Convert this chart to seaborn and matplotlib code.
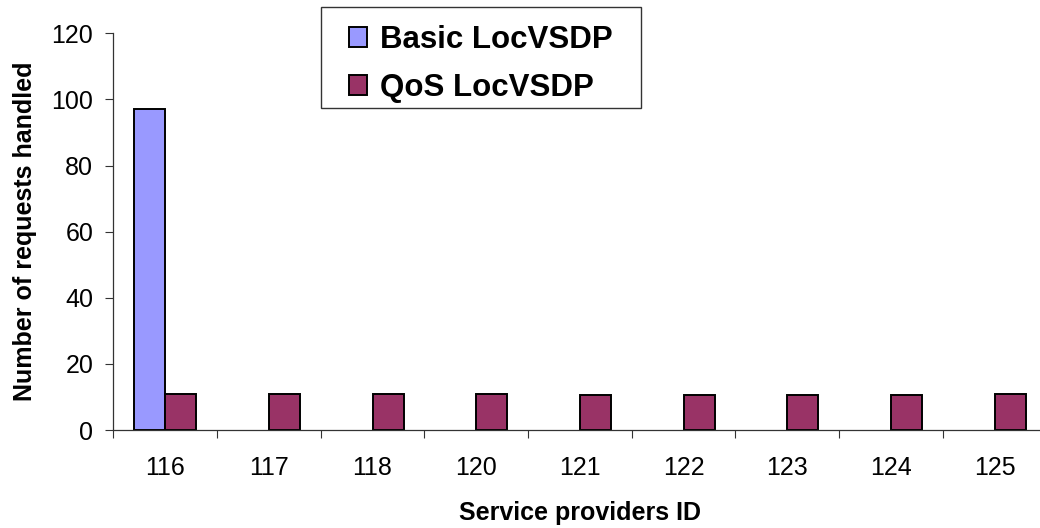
import numpy as np
import pandas as pd
import matplotlib
matplotlib.use('Agg')
import matplotlib.pyplot as plt
import seaborn as sns
from matplotlib.ticker import FixedLocator
from matplotlib.patches import Rectangle

# data (Basic LocVSDP only has a bar at 116)
provider_ids = ['116', '117', '118', '120', '121', '122', '123', '124', '125']
basic_locvsdp = [97, np.nan, np.nan, np.nan, np.nan, np.nan, np.nan, np.nan, np.nan]
qos_locvsdp = [11, 11, 11, 11, 10.5, 10.5, 10.5, 10.5, 11]
series_names = ['Basic LocVSDP', 'QoS LocVSDP']
y_ticks = [0, 20, 40, 60, 80, 100, 120]

df = pd.DataFrame({
    'provider': provider_ids * 2,
    'series': [series_names[0]] * len(provider_ids) + [series_names[1]] * len(provider_ids),
    'requests': basic_locvsdp + qos_locvsdp,
})

sns.set_theme(style='white', rc={'text.color': 'black', 'axes.labelcolor': 'black',
                                 'xtick.color': 'black', 'ytick.color': 'black'})
plt.rcParams['font.family'] = ['Liberation Sans', 'DejaVu Sans']

W, H = 1040, 528
fig = plt.figure(figsize=(W / 100, H / 100), dpi=100)
# excel-like plot area, runs slightly past the right edge
ax = fig.add_axes([113.3 / W, 1 - 430 / H, 933.3 / W, (430 - 33.3) / H])

sns.barplot(data=df, x='provider', y='requests', hue='series', order=provider_ids,
            hue_order=series_names, palette=['#9999FF', '#993366'],
            width=0.6, gap=0, edgecolor='black', linewidth=1.4,
            saturation=1, errorbar=None, ax=ax)

ax.set_xlim(-0.5, len(provider_ids) - 0.5)
ax.set_ylim(0, 120)
ax.set_yticks(y_ticks)
ax.tick_params(axis='y', which='major', direction='out', length=5.8, width=0.8,
               color='#333333', left=True, labelsize=18, pad=8.6)
ax.tick_params(axis='x', which='major', length=0, labelsize=18, pad=18.5)
ax.xaxis.set_minor_locator(FixedLocator(np.arange(-0.5, len(provider_ids), 1.0)))
ax.tick_params(axis='x', which='minor', direction='out', length=5.8, width=0.8,
               color='#333333', bottom=True)

for side in ['top', 'right']:
    ax.spines[side].set_visible(False)
for side in ['left', 'bottom']:
    ax.spines[side].set_color('#333333')
    ax.spines[side].set_linewidth(0.9)

ax.set_xlabel('Service providers ID', fontsize=18, fontweight='bold', labelpad=15)
ax.set_ylabel('Number of requests handled', fontsize=18, fontweight='bold', labelpad=10.5)

handles, labels = ax.get_legend_handles_labels()
leg = ax.legend(handles, labels, loc='upper left', bbox_to_anchor=(333 / W, 1 - 9 / H),
                bbox_transform=fig.transFigure, frameon=False, borderpad=0,
                handlelength=0.6, handleheight=0.6, handletextpad=0.4,
                labelspacing=0.58, prop={'size': 22.5, 'weight': 'bold'})
# legend box drawn separately so the padding matches the original
fig.patches.append(Rectangle((321 / W, 1 - 108 / H), 320 / W, 101 / H,
                             transform=fig.transFigure, fill=False,
                             edgecolor='#333333', linewidth=1))

fig.savefig('out.png', dpi=100)
